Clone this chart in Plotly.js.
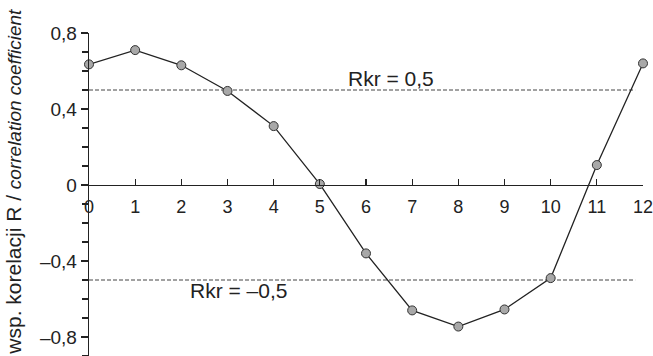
<!DOCTYPE html>
<html>
<head>
<meta charset="utf-8">
<script src="https://cdn.plot.ly/plotly-3.0.1.min.js"></script>
<style>html,body{margin:0;padding:0;background:#fff;}#chart{width:653px;height:356px;}</style>
</head>
<body>
<div id="chart"></div>
<script>
// Data
var lags = [0, 1, 2, 3, 4, 5, 6, 7, 8, 9, 10, 11, 12];
var corr = [0.635, 0.71, 0.63, 0.495, 0.31, 0.005, -0.36, -0.66, -0.745, -0.655, -0.49, 0.105, 0.64];
var critLevels = [0.5, -0.5];
var critLabels = ["Rkr = 0,5", "Rkr = \u20130,5"];
var critLabelX = [6.54, 3.23];
var critLabelY = [0.558, -0.553];
var critLineX = [0, 11.83];
var xTicks = [0, 1, 2, 3, 4, 5, 6, 7, 8, 9, 10, 11, 12];
var yTickVals = [0.8, 0.4, 0, -0.4, -0.8];
var yTickText = ["0,8", "0,4", "0", "\u20130,4", "\u20130,8"];
var yRange = [-0.9, 0.8];
var xRange = [0, 12];

var traces = [];
critLevels.forEach(function (lv) {
  traces.push({
    x: critLineX, y: [lv, lv], mode: 'lines', type: 'scatter',
    line: {color: '#444', width: 1, dash: '4px,2px'}, hoverinfo: 'skip', cliponaxis: false
  });
});
traces.push({
  x: lags, y: corr, mode: 'lines+markers', type: 'scatter',
  line: {color: '#222', width: 1.3},
  marker: {size: 9, color: '#a8a8a8', line: {color: '#333', width: 1}},
  cliponaxis: false
});

var zeroPos = (0 - yRange[0]) / (yRange[1] - yRange[0]);
var font = 'Liberation Sans, Arial, sans-serif';

var annotations = critLabels.map(function (t, i) {
  return {x: critLabelX[i], y: critLabelY[i], xref: 'x', yref: 'y', text: t, showarrow: false,
    font: {family: font, size: 21, color: '#222'}, xanchor: 'center', yanchor: 'middle'};
});
annotations.push({
  xref: 'paper', yref: 'paper', x: -0.137, y: 0.54, textangle: -90,
  text: 'wsp. korelacji R / <i><span style="font-size:19px">correlation coefficient</span></i>',
  showarrow: false, font: {family: font, size: 21, color: '#222'}, xanchor: 'center', yanchor: 'middle'
});

var layout = {
  width: 653, height: 356,
  margin: {l: 89, r: 10, t: 33, b: 0, pad: 0},
  paper_bgcolor: '#fff', plot_bgcolor: '#fff',
  showlegend: false,
  font: {family: font, color: '#222'},
  xaxis: {
    range: xRange, anchor: 'free', position: zeroPos,
    tickvals: xTicks, ticktext: xTicks.map(String),
    ticks: 'inside', ticklen: 6, tickwidth: 1.2, tickcolor: '#222',
    ticklabelstandoff: 5, ticklabeloverflow: 'allow',
    showline: true, linecolor: '#222', linewidth: 1.3,
    showgrid: false, zeroline: false,
    tickfont: {family: font, size: 18, color: '#222'}
  },
  yaxis: {
    range: yRange, tickvals: yTickVals, ticktext: yTickText,
    ticks: 'outside', ticklen: 7, tickwidth: 1.2, tickcolor: '#222',
    minor: {dtick: 0.1, tick0: 0, ticks: 'outside', ticklen: 6, tickwidth: 1.2, tickcolor: '#222'},
    showline: true, linecolor: '#222', linewidth: 1.3,
    showgrid: false, zeroline: false,
    tickfont: {family: font, size: 19, color: '#222'}
  },
  annotations: annotations
};

Plotly.newPlot('chart', traces, layout, {staticPlot: true, displayModeBar: false});
</script>
</body>
</html>
